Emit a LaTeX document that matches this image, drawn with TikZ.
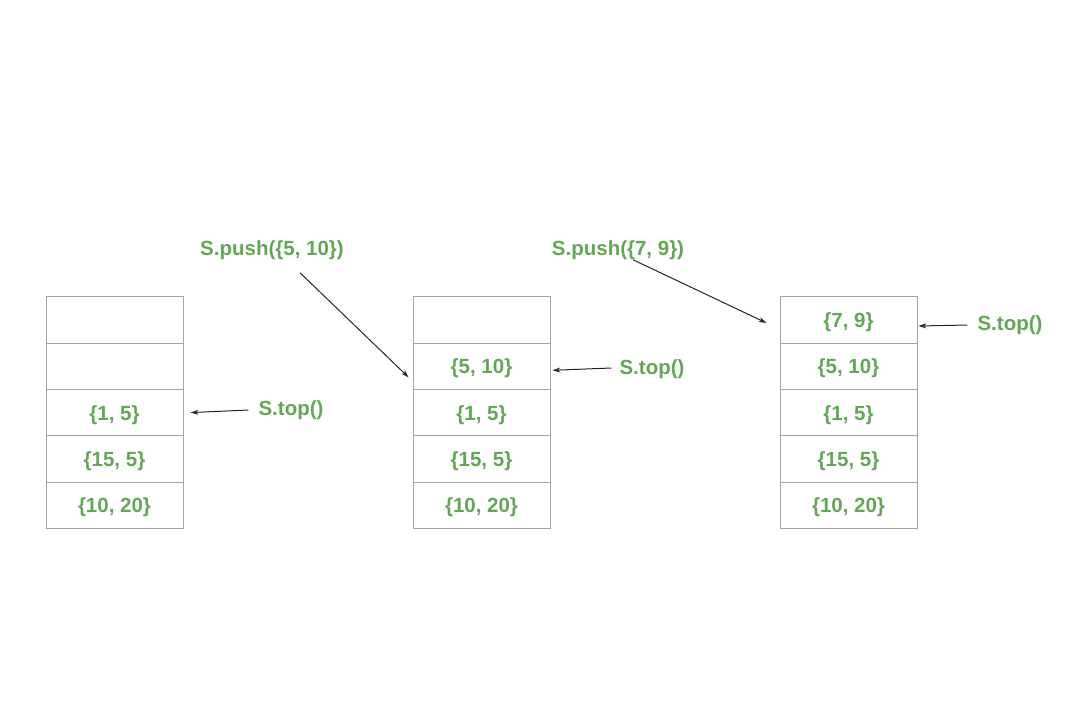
\documentclass[tikz,border=0pt]{standalone}
\usepackage{fontspec}
\setmainfont{Liberation Sans}
\usetikzlibrary{arrows.meta}
\definecolor{mygreen}{RGB}{98,168,84}
\definecolor{mygray}{RGB}{165,165,165}

\begin{document}
\begin{tikzpicture}[x=1pt, y=-1pt,
    cell/.style={draw=mygray, line width=0.9pt, minimum width=137pt, minimum height=46.3pt,
      inner sep=0pt, text depth=0pt, text=mygreen, font=\fontsize{20.5}{24}\selectfont\bfseries},
    lbl/.style={text=mygreen, inner sep=0pt, font=\fontsize{20.5}{24}\selectfont\bfseries},
    ptr/.style={-{Stealth[length=8pt,width=5pt]}, line width=1pt, black!85}]
    \useasboundingbox (0,0) rectangle (1080,720);
    % First stack
    \foreach \i/\t in {1/{},2/{},3/{\{1, 5\}},4/{\{15, 5\}},5/{\{10, 20\}}}
      \node[cell] (a\i) at (114.5, 273.7+46.3*\i) {\t};
    % Second stack
    \foreach \i/\t in {1/{},2/{\{5, 10\}},3/{\{1, 5\}},4/{\{15, 5\}},5/{\{10, 20\}}}
      \node[cell] (b\i) at (481.5, 273.7+46.3*\i) {\t};
    % Third stack
    \foreach \i/\t in {1/{\{7, 9\}},2/{\{5, 10\}},3/{\{1, 5\}},4/{\{15, 5\}},5/{\{10, 20\}}}
      \node[cell] (c\i) at (848.5, 273.7+46.3*\i) {\t};
    % Operations
    \node[lbl] (push1) at (272,250) {S.push(\{5, 10\})};
    \node[lbl] (push2) at (618,250) {S.push(\{7, 9\})};
    \node[lbl] (top1) at (291,410) {S.top()};
    \node[lbl] (top2) at (652,369) {S.top()};
    \node[lbl] (top3) at (1010,325) {S.top()};
    % Arrows
    \draw[ptr] ([xshift=28pt,yshift=-13pt]push1.south) -- ([xshift=-4pt,yshift=-11pt]b2.west);
    \draw[ptr] ([xshift=15pt]push2.south) -- ([xshift=-13pt,yshift=-3pt]c1.west);
    \draw[ptr] ([xshift=-10pt]top1.west) -- ([xshift=7pt]a3.east);
    \draw[ptr] ([xshift=-8pt,yshift=1pt]top2.west) -- ([xshift=2pt,yshift=-4pt]b2.east);
    \draw[ptr] ([xshift=-10pt]top3.west) -- ([xshift=1pt,yshift=-6pt]c1.east);
\end{tikzpicture}
\end{document}
